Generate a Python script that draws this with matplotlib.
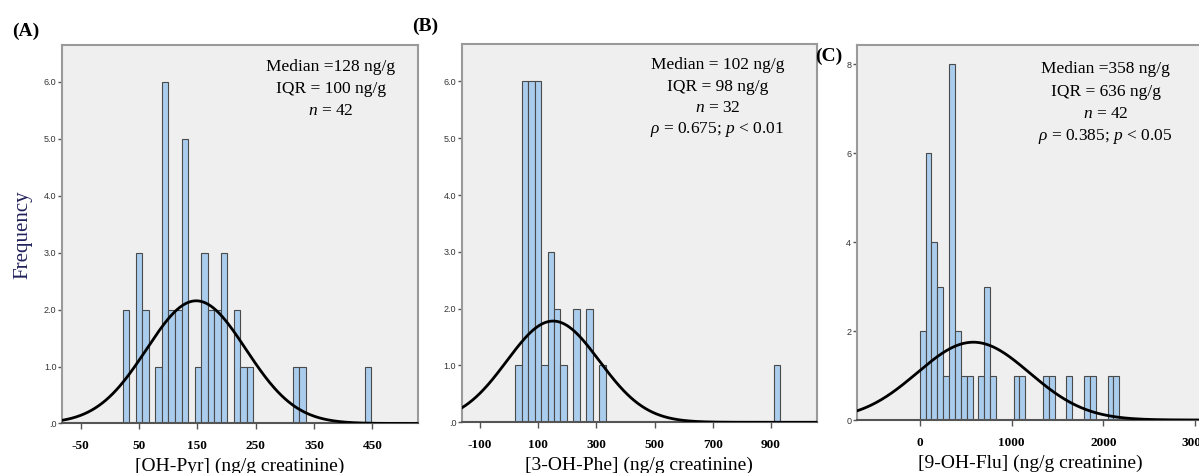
import numpy as np
import matplotlib
matplotlib.use("Agg")
import matplotlib.pyplot as plt

# histogram data: first bin edge, bin width, counts per bin
pyr_start, pyr_width = 22, 11.2
pyr_counts = [2, 0, 3, 2, 0, 1, 6, 2, 2, 5, 0, 1, 3, 2, 2, 3, 0, 2, 1, 1,
              0, 0, 0, 0, 0, 0, 1, 1, 0, 0, 0, 0, 0, 0, 0, 0, 0, 1]
pyr_mean, pyr_sd = 148, 85

phe_start, phe_width = 21, 22.2
phe_counts = [1, 6, 6, 6, 1, 3, 2, 1, 0, 2, 0, 2, 0, 1] + [0] * 26 + [1]
phe_mean, phe_sd = 151, 159

flu_start, flu_width = -3, 64
flu_counts = [2, 6, 4, 3, 1, 8, 2, 1, 1, 0, 1, 3, 1, 0, 0, 0, 1, 1, 0, 0,
              0, 1, 1, 0, 0, 1, 0, 0, 1, 1, 0, 0, 1, 1]
flu_mean, flu_sd = 582, 613

pyr_xticks = [-50, 50, 150, 250, 350, 450]
phe_xticks = [-100, 100, 300, 500, 700, 900]
flu_xticks = [0, 1000, 2000, 3000]

pyr_stats = ["Median =128 ng/g", "IQR = 100 ng/g", r"$n$ = 42"]
phe_stats = ["Median = 102 ng/g", "IQR = 98 ng/g", r"$n$ = 32",
             r"$\rho$ = 0.675; $p$ < 0.01"]
flu_stats = ["Median =358 ng/g", "IQR = 636 ng/g", r"$n$ = 42",
             r"$\rho$ = 0.385; $p$ < 0.05"]

plt.rcParams['mathtext.fontset'] = 'custom'
plt.rcParams['mathtext.it'] = 'Liberation Serif:italic'
plt.rcParams['mathtext.rm'] = 'Liberation Serif'

SERIF = "Liberation Serif"
BAR_FACE = "#aacdee"
BAR_EDGE = "#4a4a4a"


def draw_hist(ax, start, width, counts, mean, sd, xlim, ylim):
    counts = np.array(counts)
    centers = start + width * (np.arange(len(counts)) + 0.5)
    keep = counts > 0
    ax.bar(centers[keep], counts[keep], width=width, color=BAR_FACE,
           edgecolor=BAR_EDGE, linewidth=0.8, zorder=2)
    # fitted normal curve
    x = np.linspace(xlim[0], xlim[1], 400)
    scale = counts.sum() * width / (sd * np.sqrt(2 * np.pi))
    y = scale * np.exp(-0.5 * ((x - mean) / sd) ** 2)
    ax.plot(x, y, color="black", lw=2, zorder=3)
    ax.set_xlim(xlim)
    ax.set_ylim(ylim)


def style_axes(ax, xticks, yticks, ylabels, xlabel):
    ax.set_facecolor("#efefef")
    for side in ["left", "top", "right"]:
        ax.spines[side].set_color("#9a9a9a")
        ax.spines[side].set_linewidth(1.5)
    ax.spines["bottom"].set_color("#555555")
    ax.spines["bottom"].set_linewidth(1.5)
    ax.set_xticks(xticks)
    ax.set_xticklabels([str(t) for t in xticks], fontfamily=SERIF,
                       fontweight="bold", fontsize=9.5)
    ax.set_yticks(yticks)
    ax.set_yticklabels(ylabels, fontfamily="Liberation Sans", fontsize=6.5,
                       color="#333333")
    ax.tick_params(axis="x", length=4, width=1, color="#555555", pad=8)
    ax.tick_params(axis="y", length=3, width=1, color="#555555", pad=1)
    ax.set_xlabel(xlabel, fontfamily=SERIF, fontsize=14, labelpad=4)


def stats_text(ax, lines, x, y0, dy):
    for i, line in enumerate(lines):
        ax.text(x, y0 - i * dy, line, transform=ax.transAxes, ha="center",
                va="center", fontfamily=SERIF, fontsize=12.5)


fig = plt.figure(figsize=(11.99, 4.73), dpi=100)

ax1 = fig.add_axes([0.0517, 0.1047, 0.2969, 0.8002])
ax2 = fig.add_axes([0.3851, 0.1072, 0.2963, 0.7998])
ax3 = fig.add_axes([0.7145, 0.1120, 0.2899, 0.7929])

draw_hist(ax1, pyr_start, pyr_width, pyr_counts, pyr_mean, pyr_sd,
          (-82, 528), (0, 6.65))
style_axes(ax1, pyr_xticks, [0, 1, 2, 3, 4, 5, 6],
           [".0", "1.0", "2.0", "3.0", "4.0", "5.0", "6.0"],
           "[OH-Pyr] (ng/g creatinine)")
ax1.set_ylabel("Frequency", fontfamily=SERIF, fontsize=15,
               color="#20205a", labelpad=8)
stats_text(ax1, pyr_stats, 0.755, 0.941, 0.058)

draw_hist(ax2, phe_start, phe_width, phe_counts, phe_mean, phe_sd,
          (-163, 1058), (0, 6.66))
style_axes(ax2, phe_xticks, [0, 1, 2, 3, 4, 5, 6],
           [".0", "1.0", "2.0", "3.0", "4.0", "5.0", "6.0"],
           "[3-OH-Phe] (ng/g creatinine)")
stats_text(ax2, phe_stats, 0.72, 0.944, 0.057)

draw_hist(ax3, flu_start, flu_width, flu_counts, flu_mean, flu_sd,
          (-690, 3100), (0, 8.43))
style_axes(ax3, flu_xticks, [0, 2, 4, 6, 8], ["0", "2", "4", "6", "8"],
           "[9-OH-Flu] (ng/g creatinine)")
stats_text(ax3, flu_stats, 0.716, 0.935, 0.060)

# panel letters
for label, x, y in [("(A)", 0.010, 0.925), ("(B)", 0.344, 0.935),
                    ("(C)", 0.680, 0.872)]:
    fig.text(x, y, label, fontfamily=SERIF, fontweight="bold", fontsize=14)

fig.savefig("out.png", dpi=100)
